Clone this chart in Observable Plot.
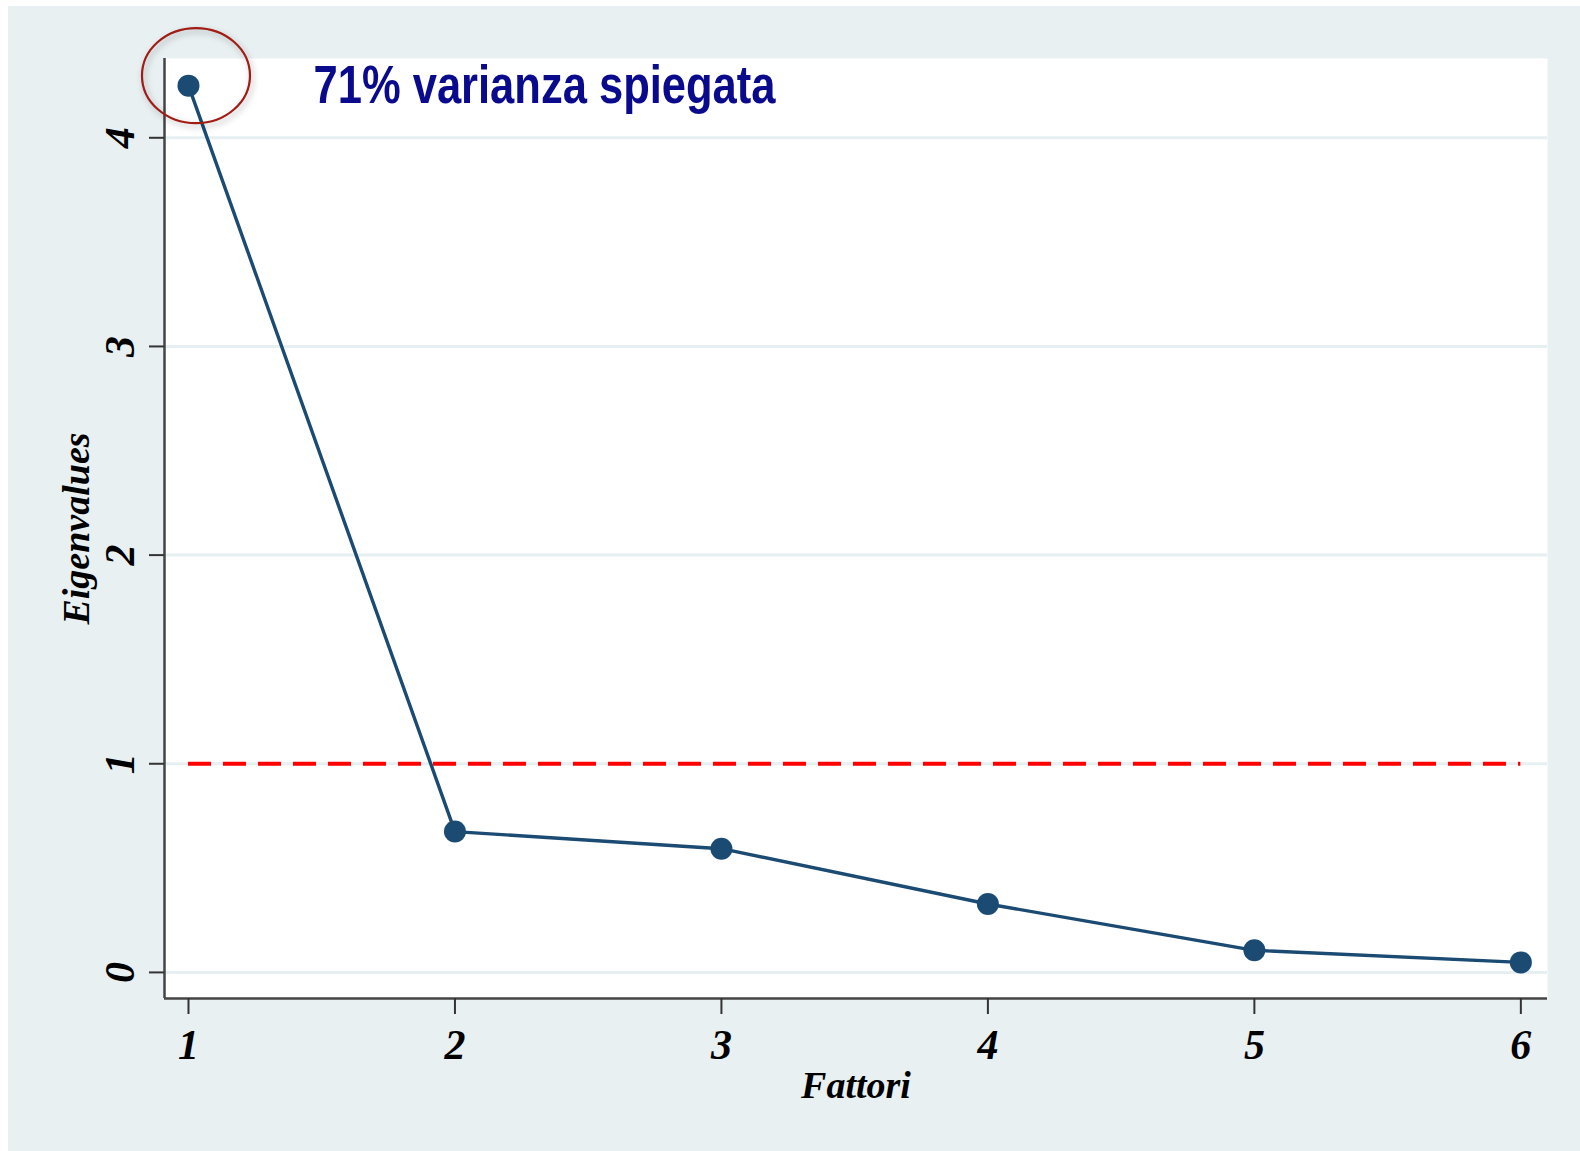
<!DOCTYPE html>
<html>
<head>
<meta charset="utf-8">
<script src="https://cdn.jsdelivr.net/npm/d3@7"></script>
<script src="https://cdn.jsdelivr.net/npm/@observablehq/plot@0.6"></script>
<style>
  html, body { margin: 0; padding: 0; background: #ffffff; }
  #chart { position: absolute; left: 8px; top: 6px; }
</style>
</head>
<body>
<div id="chart"></div>
<script>
// ---- data ----
const factors = [1, 2, 3, 4, 5, 6];
const eigenvalues = [4.25, 0.675, 0.593, 0.328, 0.106, 0.048];
const xTicks = [1, 2, 3, 4, 5, 6];
const yTicks = [0, 1, 2, 3, 4];
const kaiserLine = [1];
const annotationText = "71% varianza spiegata";
const xLabel = "Fattori";
const yLabel = "Eigenvalues";

const rows = factors.map((f, i) => ({factor: f, eigen: eigenvalues[i]}));
const serif = "'Liberation Serif', 'Times New Roman', serif";
const sans = "'Liberation Sans', Arial, sans-serif";
const xDomain = [0.91, 6.10];
const yDomain = [-0.125, 4.38];

function ellipseMark(index, scales) {
  const e = d3.create("svg:ellipse")
    .attr("cx", scales.x(factors[0]) + 8)
    .attr("cy", scales.y(eigenvalues[0]) - 9.5)
    .attr("rx", 54)
    .attr("ry", 47.5)
    .attr("fill", "none")
    .attr("stroke", "#a01c14")
    .attr("stroke-width", 2.2)
    .style("filter", "drop-shadow(2px 3px 3px rgba(0,0,0,0.3))");
  return e.node();
}

const chart = Plot.plot({
  width: 1572,
  height: 1145,
  marginLeft: 156,
  marginTop: 52,
  marginRight: 33,
  marginBottom: 153,
  style: {background: "#e8f0f2", fontFamily: serif, overflow: "visible"},
  x: {domain: xDomain},
  y: {domain: yDomain},
  marks: [
    Plot.frame({fill: "#ffffff", stroke: null}),
    Plot.ruleY(yTicks, {stroke: "#e6eff1", strokeWidth: 3}),
    Plot.ruleY(kaiserLine, {x1: factors[0], x2: factors[factors.length - 1], stroke: "#ff0000", strokeWidth: 4, strokeDasharray: "23,12"}),
    Plot.line(rows, {x: "factor", y: "eigen", stroke: "#1b4a72", strokeWidth: 3.4}),
    Plot.dot(rows, {x: "factor", y: "eigen", r: 11, fill: "#1b4a72", stroke: null}),
    Plot.ruleX([xDomain[0]], {stroke: "#444444", strokeWidth: 2.5}),
    Plot.ruleY([yDomain[0]], {stroke: "#444444", strokeWidth: 2.5}),
    Plot.axisX({ticks: xTicks, tickSize: 16, tickPadding: 15, tickFormat: d => String(d), label: null,
      stroke: "#333333", strokeWidth: 2, fill: "#000000",
      fontSize: 42, fontFamily: serif, fontStyle: "italic", fontWeight: "bold"}),
    Plot.axisY({ticks: yTicks, tickSize: 15, tickFormat: () => "", label: null, stroke: "#333333", strokeWidth: 2}),
    Plot.text(yTicks, {y: d => d, text: d => String(d), frameAnchor: "left", rotate: -90, dx: -31,
      lineAnchor: "bottom", textAnchor: "middle", fill: "#000000",
      fontSize: 42, fontFamily: serif, fontStyle: "italic", fontWeight: "bold"}),
    Plot.text([xLabel], {text: d => d, frameAnchor: "bottom", dy: 99, lineAnchor: "bottom", fill: "#000000",
      fontSize: 38, fontFamily: serif, fontStyle: "italic", fontWeight: "bold"}),
    Plot.text([yLabel], {text: d => d, frameAnchor: "left", rotate: -90, dx: -76, lineAnchor: "bottom", textAnchor: "middle",
      fill: "#000000", fontSize: 38, fontFamily: serif, fontStyle: "italic", fontWeight: "bold"}),
    ellipseMark,
    Plot.text([annotationText], {text: d => d, frameAnchor: "top-left", dx: 149, dy: 44, lineAnchor: "bottom", textAnchor: "start",
      fill: "#0a0a8c", fontSize: 53, fontFamily: sans, fontWeight: "bold", ariaLabel: () => "annotation"})
  ]
});

document.getElementById("chart").appendChild(chart);
const t = chart.querySelector('text[aria-label="annotation"]') ||
  Array.from(chart.querySelectorAll("text")).find(n => n.textContent === annotationText);
if (t) { t.setAttribute("textLength", 462); t.setAttribute("lengthAdjust", "spacingAndGlyphs"); }
</script>
</body>
</html>
